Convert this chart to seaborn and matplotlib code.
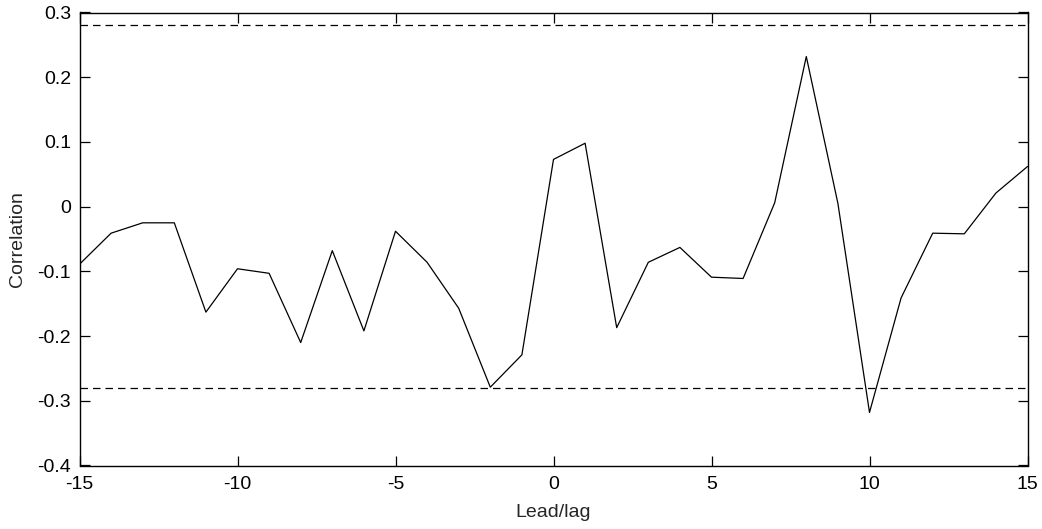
import matplotlib
matplotlib.use("Agg")
import matplotlib.pyplot as plt
import seaborn as sns
import pandas as pd

lags = list(range(-15, 16))
corr = [-0.089, -0.041, -0.025, -0.025, -0.163, -0.096, -0.103, -0.210, -0.068, -0.192,
        -0.038, -0.086, -0.157, -0.279, -0.229, 0.073, 0.098, -0.187, -0.086, -0.063,
        -0.109, -0.111, 0.006, 0.232, 0.005, -0.318, -0.141, -0.041, -0.042, 0.021, 0.062]
conf_upper = 0.280
conf_lower = -0.280
xticks = [-15, -10, -5, 0, 5, 10, 15]
yticks = [-0.4, -0.3, -0.2, -0.1, 0, 0.1, 0.2, 0.3]
ytick_labels = ["-0.4", "-0.3", "-0.2", "-0.1", "0", "0.1", "0.2", "0.3"]

sns.set_style("ticks")
plt.rcParams['font.family'] = ['Liberation Sans', 'DejaVu Sans']

df = pd.DataFrame({"lag": lags, "corr": corr})

fig = plt.figure(figsize=(10.42, 5.29), dpi=100)
ax = fig.add_axes([79.5 / 1042, 1 - 465.5 / 529, 948 / 1042, 453 / 529])

sns.lineplot(data=df, x="lag", y="corr", ax=ax, color="black", linewidth=0.9)
ax.axhline(conf_upper, color="black", linewidth=0.9, linestyle=(0, (6, 4)))
ax.axhline(conf_lower, color="black", linewidth=0.9, linestyle=(0, (6, 4)))

ax.set_xlim(-15, 15)
ax.set_ylim(-0.4, 0.3)
ax.set_xticks(xticks)
ax.set_xticklabels([str(t) for t in xticks])
ax.set_yticks(yticks)
ax.set_yticklabels(ytick_labels)
ax.tick_params(direction="in", length=7, width=0.9, top=True, right=True,
               labelsize=14, colors="black")
ax.tick_params(axis="x", pad=7.5)
ax.tick_params(axis="y", pad=6)
for s in ax.spines.values():
    s.set_visible(True)
    s.set_linewidth(1.0)
    s.set_color("black")
ax.set_xlabel("Lead/lag", fontsize=14, labelpad=8)
ax.set_ylabel("Correlation", fontsize=14, labelpad=8)

fig.savefig("out.png", dpi=100, facecolor="white")
